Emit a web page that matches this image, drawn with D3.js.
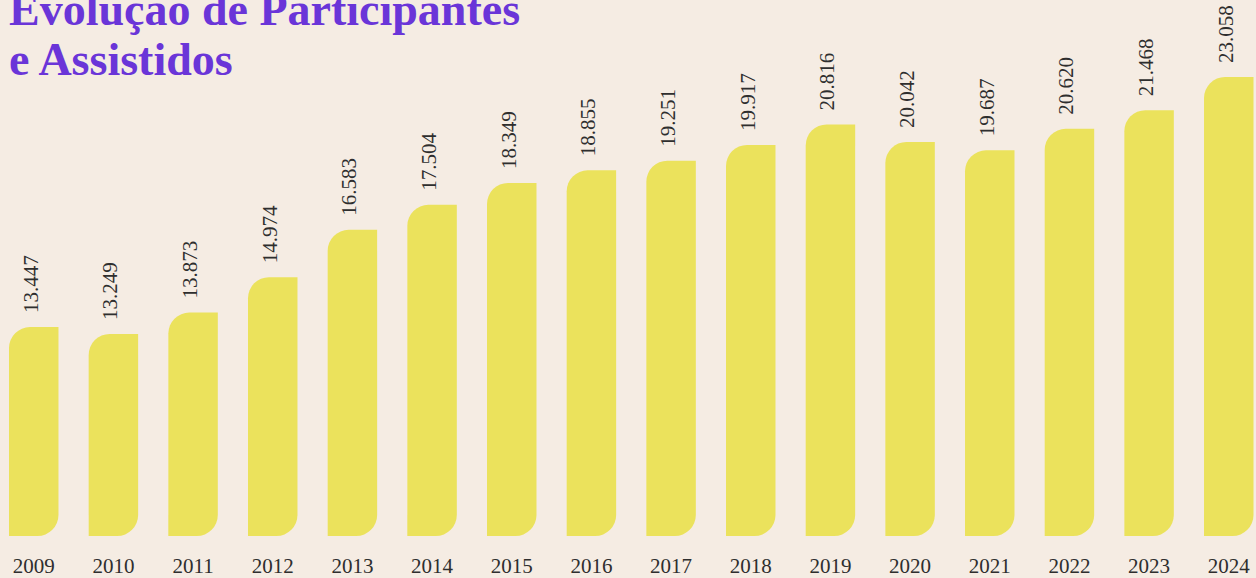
<!DOCTYPE html>
<html>
<head>
<meta charset="utf-8">
<script src="https://cdn.jsdelivr.net/npm/d3@7"></script>
<style>
  html, body { margin: 0; padding: 0; background: #f5ece3; }
  svg { display: block; }
</style>
</head>
<body>
<div id="chart"></div>
<script>
const years = ['2009', '2010', '2011', '2012', '2013', '2014', '2015', '2016',
  '2017', '2018', '2019', '2020', '2021', '2022', '2023', '2024'];
const participants = [13447, 13249, 13873, 14974, 16583, 17504, 18349, 18855,
  19251, 19917, 20816, 20042, 19687, 20620, 21468, 23058];
const titleLines = ['Evolução de Participantes', 'e Assistidos'];

const w = 1256;
const h = 578;
const baseY = 536;
const r = 21;

const ptBR = d3.formatLocale({ decimal: ',', thousands: '.', grouping: [3], currency: ['R$', ''] });
const fmt = ptBR.format(',d');

const xScale = d3.scaleBand().domain(years).range([9, 1253.5]).paddingInner(0.379).paddingOuter(0);
const yScale = d3.scaleLog().domain([8570, 23058]).range([baseY, 77]);
const xAxis = d3.axisBottom(xScale).tickSize(0).tickPadding(0);

const svg = d3.select('#chart').append('svg').attr('width', w).attr('height', h);

svg.append('rect').attr('width', w).attr('height', h).attr('fill', '#f5ece3');

// bars: rounded top-left and bottom-right corners only
function barPath(x, y, bw, bh) {
  return 'M' + x + ',' + (y + r) +
    'A' + r + ',' + r + ' 0 0 1 ' + (x + r) + ',' + y +
    'H' + (x + bw) +
    'V' + (y + bh - r) +
    'A' + r + ',' + r + ' 0 0 1 ' + (x + bw - r) + ',' + (y + bh) +
    'H' + x + 'Z';
}

svg.selectAll('path.bar')
  .data(participants)
  .enter()
  .append('path')
  .attr('class', 'bar')
  .attr('fill', '#ebe25c')
  .attr('d', (d, i) => {
    const x = xScale(years[i]);
    const y = yScale(d);
    return barPath(x, y, xScale.bandwidth(), baseY - y);
  });

svg.selectAll('text.val')
  .data(participants)
  .enter()
  .append('text')
  .attr('class', 'val')
  .attr('transform', (d, i) => 'translate(' + (xScale(years[i]) + xScale.bandwidth() / 2 + 4) + ',' + (yScale(d) - 14) + ') rotate(-90)')
  .attr('font-family', '"Liberation Serif", "DejaVu Serif", serif')
  .attr('font-size', 21)
  .attr('fill', '#2e2e2e')
  .text(d => fmt(d));

const gx = svg.append('g').attr('transform', 'translate(0,' + 573 + ')').call(xAxis);
gx.select('.domain').remove();
gx.selectAll('text')
  .attr('dy', 0)
  .attr('font-family', '"Liberation Serif", "DejaVu Serif", serif')
  .attr('font-size', 21)
  .attr('fill', '#2e2e2e');

svg.selectAll('text.title')
  .data(titleLines)
  .enter()
  .append('text')
  .attr('class', 'title')
  .attr('x', 9)
  .attr('y', (d, i) => 25 + i * 50)
  .attr('font-family', '"Liberation Serif", "DejaVu Serif", serif')
  .attr('font-weight', 'bold')
  .attr('font-size', 46)
  .attr('fill', '#6a35d8')
  .text(d => d);
</script>
</body>
</html>
